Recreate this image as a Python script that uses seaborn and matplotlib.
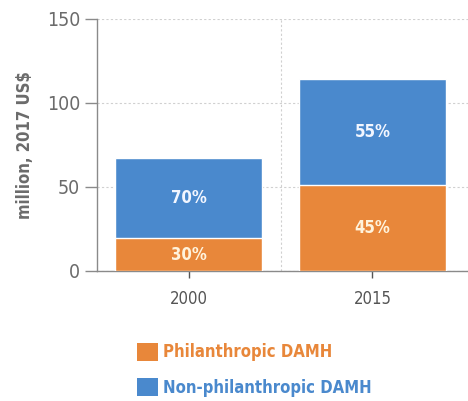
import matplotlib
matplotlib.use("Agg")
import matplotlib.pyplot as plt
import seaborn as sns
import pandas as pd
from matplotlib.patches import Patch

years = ["2000", "2015"]
philanthropic = [19.6, 51.2]
non_philanthropic = [47.7, 63.1]
phil_labels = ["30%", "45%"]
nonphil_labels = ["70%", "55%"]
series_names = ["Philanthropic DAMH", "Non-philanthropic DAMH"]

ORANGE = "#E8873A"
BLUE = "#4A89CD"
GRAY = "#6b6b6b"

sns.set_style("white")
plt.rcParams["font.family"] = ["DejaVu Sans"]
plt.rcParams["font.stretch"] = "condensed"

totals = [p + n for p, n in zip(philanthropic, non_philanthropic)]
df = pd.DataFrame({"year": years, "phil": philanthropic, "total": totals})

fig = plt.figure(figsize=(4.68, 4.01), dpi=100)
ax = fig.add_axes([97 / 468, 1 - 271 / 401, (468 - 97) / 468, (271 - 19) / 401])

sns.barplot(data=df, x="year", y="total", color=BLUE, width=0.8, saturation=1, ax=ax, zorder=2)
sns.barplot(data=df, x="year", y="phil", color=ORANGE, width=0.8, saturation=1, ax=ax, zorder=3)

for i in range(len(years)):
    ax.text(i, philanthropic[i] / 2, phil_labels[i], ha="center", va="center",
            color="#FFF3DC", fontsize=12, fontweight="bold", zorder=5)
    ax.text(i, philanthropic[i] + non_philanthropic[i] / 2, nonphil_labels[i], ha="center",
            va="center", color="#F2F6FF", fontsize=12, fontweight="bold", zorder=5)

ax.set_xlim(-0.5, 1.52)
ax.set_ylim(0, 150)
ax.set_yticks([0, 50, 100, 150])
ax.yaxis.grid(True, linestyle=(0, (2, 2)), color="#d0d0d0", linewidth=0.8, zorder=0)
ax.axvline(0.5, linestyle=(0, (2, 2)), color="#d0d0d0", linewidth=0.8, zorder=0)
ax.set_axisbelow(True)

for s in ["top", "right"]:
    ax.spines[s].set_visible(False)
for s in ["left", "bottom"]:
    ax.spines[s].set_color("#8a8a8a")
    ax.spines[s].set_linewidth(1.0)

ax.tick_params(axis="y", which="both", left=True, length=9, width=1, color="#8a8a8a",
               labelsize=14, labelcolor=GRAY, pad=3)
ax.tick_params(axis="x", which="both", bottom=True, length=5, width=1, color="#555555",
               labelsize=12, labelcolor="#555555", pad=9)

ax.set_xlabel("")
ax.set_ylabel("million, 2017 US$", fontsize=12, fontweight="bold", color=GRAY, labelpad=9)

handles = [Patch(facecolor=ORANGE, edgecolor="none"), Patch(facecolor=BLUE, edgecolor="none")]
leg = fig.legend(handles, series_names, loc="upper left", bbox_to_anchor=(130 / 468, 1 - 336 / 401),
                 frameon=False, fontsize=12, handlelength=1.3, handleheight=1.3,
                 handletextpad=0.3, labelspacing=1.0, borderaxespad=0)
for t, c in zip(leg.get_texts(), [ORANGE, BLUE]):
    t.set_color(c)
    t.set_fontweight("bold")

fig.savefig("out.png", dpi=100)
